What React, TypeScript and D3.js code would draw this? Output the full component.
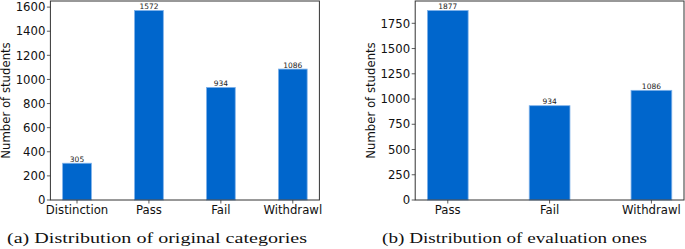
import React from "react";
import * as d3 from "d3";

const catsA = ["Distinction", "Pass", "Fail", "Withdrawl"];
const valsA = [305, 1572, 934, 1086];
const ticksA = [0, 200, 400, 600, 800, 1000, 1200, 1400, 1600];

const catsB = ["Pass", "Fail", "Withdrawl"];
const valsB = [1877, 934, 1086];
const ticksB = [0, 250, 500, 750, 1000, 1250, 1500, 1750];

const captionA = "(a) Distribution of original categories";
const captionB = "(b) Distribution of evaluation ones";

const FILL = "#0066cc";
const EDGE = "#7fb2ea";
const FONT = "DejaVu Sans";

function Panel({ cats, vals, ticks, x0, x1, ylabelX, caption, capX, capW }) {
  const top = 1, bottom = 200;
  const n = cats.length;
  const xs = d3.scaleLinear().domain([-0.2 - 0.05 * (n - 1 + 0.4), n - 1 + 0.2 + 0.05 * (n - 1 + 0.4)]).range([x0, x1]);
  const ymax = d3.max(vals) * 1.05;
  const ys = d3.scaleLinear().domain([0, ymax]).range([bottom, top]);
  const bw = xs(0.4) - xs(0);
  return (
    <g>
      {vals.map((v, i) => (
        <g key={i}>
          <rect x={xs(i) - bw / 2} y={ys(v)} width={bw} height={ys(0) - ys(v)} fill={FILL} stroke={EDGE} strokeWidth={0.8} />
          <text x={xs(i)} y={ys(v) - 1.5} textAnchor="middle" fontFamily={FONT} fontSize={7.5} fill="#222">{v}</text>
        </g>
      ))}
      <rect x={x0} y={top} width={x1 - x0} height={bottom - top} fill="none" stroke="#333" strokeWidth={1} />
      {ticks.map((t) => (
        <g key={t}>
          <line x1={x0 - 3.5} x2={x0} y1={ys(t)} y2={ys(t)} stroke="#333" strokeWidth={0.8} />
          <text x={x0 - 5} y={ys(t)} dy="0.36em" textAnchor="end" fontFamily={FONT} fontSize={11.7} fill="#111">{t}</text>
        </g>
      ))}
      {cats.map((c, i) => (
        <g key={c}>
          <line x1={xs(i)} x2={xs(i)} y1={bottom} y2={bottom + 3.5} stroke="#333" strokeWidth={0.8} />
          <text x={xs(i)} y={bottom + 14.3} textAnchor="middle" fontFamily={FONT} fontSize={11.7} fill="#111">{c}</text>
        </g>
      ))}
      <text transform={`translate(${ylabelX},${(top + bottom) / 2}) rotate(-90)`} textAnchor="middle" fontFamily={FONT} fontSize={11.7} fill="#111">Number of students</text>
      <text x={capX} y={242.5} fontFamily="Liberation Serif" fontSize={15} textLength={capW} lengthAdjust="spacingAndGlyphs" fill="#111">{caption}</text>
    </g>
  );
}

export default function App() {
  return (
    <svg width={685} height={249} style={{ position: "absolute", left: 0, top: 0, background: "#fff" }}>
      <rect width={685} height={249} fill="#fff" />
      <Panel cats={catsA} vals={valsA} ticks={ticksA} x0={50.4} x1={319.4} ylabelX={9.8} caption={captionA} capX={7} capW={300} />
      <Panel cats={catsB} vals={valsB} ticks={ticksB} x0={415.2} x1={684} ylabelX={375} caption={captionB} capX={382} capW={265} />
    </svg>
  );
}
